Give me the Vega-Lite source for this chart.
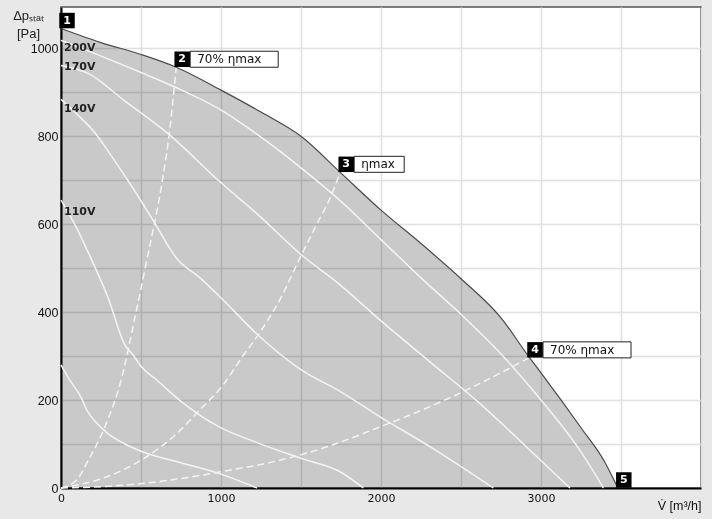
{
  "$schema": "https://vega.github.io/schema/vega-lite/v6.json",
  "width": 640,
  "height": 481,
  "autosize": {"type": "none"},
  "padding": {"left": 61, "top": 7, "right": 11, "bottom": 31},
  "background": "#e8e8e8",
  "config": {
    "view": {"fill": "white", "stroke": "#555555", "strokeWidth": 1.5},
    "font": "DejaVu Sans"
  },
  "datasets": {
    "curves": [
      {"s": "max", "V": 0, "p": 1045}, {"s": "max", "V": 250, "p": 1013}, {"s": "max", "V": 500, "p": 986}, {"s": "max", "V": 720, "p": 957}, {"s": "max", "V": 1000, "p": 905}, {"s": "max", "V": 1250, "p": 855}, {"s": "max", "V": 1500, "p": 800}, {"s": "max", "V": 1745, "p": 718}, {"s": "max", "V": 2000, "p": 632}, {"s": "max", "V": 2250, "p": 556}, {"s": "max", "V": 2500, "p": 476}, {"s": "max", "V": 2750, "p": 387}, {"s": "max", "V": 2925, "p": 298}, {"s": "max", "V": 3000, "p": 262}, {"s": "max", "V": 3250, "p": 137}, {"s": "max", "V": 3400, "p": 58}, {"s": "max", "V": 3480, "p": 0},
      {"s": "200V", "V": 0, "p": 1018}, {"s": "200V", "V": 212, "p": 988}, {"s": "200V", "V": 500, "p": 945}, {"s": "200V", "V": 712, "p": 912}, {"s": "200V", "V": 1004, "p": 859}, {"s": "200V", "V": 1250, "p": 798}, {"s": "200V", "V": 1504, "p": 727}, {"s": "200V", "V": 1750, "p": 652}, {"s": "200V", "V": 2000, "p": 565}, {"s": "200V", "V": 2250, "p": 478}, {"s": "200V", "V": 2500, "p": 395}, {"s": "200V", "V": 2750, "p": 305}, {"s": "200V", "V": 3000, "p": 200}, {"s": "200V", "V": 3250, "p": 82}, {"s": "200V", "V": 3390, "p": 0},
      {"s": "170V", "V": 0, "p": 961}, {"s": "170V", "V": 169, "p": 943}, {"s": "170V", "V": 400, "p": 880}, {"s": "170V", "V": 669, "p": 806}, {"s": "170V", "V": 1004, "p": 693}, {"s": "170V", "V": 1212, "p": 628}, {"s": "170V", "V": 1504, "p": 530}, {"s": "170V", "V": 1744, "p": 462}, {"s": "170V", "V": 2000, "p": 380}, {"s": "170V", "V": 2306, "p": 287}, {"s": "170V", "V": 2619, "p": 192}, {"s": "170V", "V": 2931, "p": 86}, {"s": "170V", "V": 3181, "p": 0},
      {"s": "140V", "V": 0, "p": 884}, {"s": "140V", "V": 100, "p": 850}, {"s": "140V", "V": 212, "p": 808}, {"s": "140V", "V": 306, "p": 760}, {"s": "140V", "V": 462, "p": 675}, {"s": "140V", "V": 587, "p": 602}, {"s": "140V", "V": 723, "p": 522}, {"s": "140V", "V": 869, "p": 478}, {"s": "140V", "V": 1004, "p": 431}, {"s": "140V", "V": 1231, "p": 348}, {"s": "140V", "V": 1504, "p": 268}, {"s": "140V", "V": 1744, "p": 220}, {"s": "140V", "V": 1994, "p": 162}, {"s": "140V", "V": 2306, "p": 94}, {"s": "140V", "V": 2702, "p": 0},
      {"s": "110V", "V": 0, "p": 655}, {"s": "110V", "V": 100, "p": 590}, {"s": "110V", "V": 171, "p": 535}, {"s": "110V", "V": 296, "p": 431}, {"s": "110V", "V": 400, "p": 325}, {"s": "110V", "V": 452, "p": 302}, {"s": "110V", "V": 504, "p": 275}, {"s": "110V", "V": 600, "p": 245}, {"s": "110V", "V": 754, "p": 196}, {"s": "110V", "V": 1004, "p": 136}, {"s": "110V", "V": 1212, "p": 105}, {"s": "110V", "V": 1504, "p": 67}, {"s": "110V", "V": 1744, "p": 37}, {"s": "110V", "V": 1890, "p": 0},
      {"s": "low", "V": 0, "p": 280}, {"s": "low", "V": 56, "p": 245}, {"s": "low", "V": 129, "p": 204}, {"s": "low", "V": 160, "p": 178}, {"s": "low", "V": 231, "p": 145}, {"s": "low", "V": 300, "p": 122}, {"s": "low", "V": 400, "p": 100}, {"s": "low", "V": 504, "p": 83}, {"s": "low", "V": 754, "p": 57}, {"s": "low", "V": 1004, "p": 31}, {"s": "low", "V": 1225, "p": 0},
      {"s": "eff2", "V": 0, "p": 0}, {"s": "eff2", "V": 100, "p": 19}, {"s": "eff2", "V": 169, "p": 62}, {"s": "eff2", "V": 275, "p": 140}, {"s": "eff2", "V": 379, "p": 250}, {"s": "eff2", "V": 462, "p": 388}, {"s": "eff2", "V": 535, "p": 516}, {"s": "eff2", "V": 629, "p": 690}, {"s": "eff2", "V": 681, "p": 818}, {"s": "eff2", "V": 720, "p": 957},
      {"s": "eff3", "V": 0, "p": 0}, {"s": "eff3", "V": 275, "p": 24}, {"s": "eff3", "V": 504, "p": 64}, {"s": "eff3", "V": 712, "p": 120}, {"s": "eff3", "V": 879, "p": 182}, {"s": "eff3", "V": 1004, "p": 230}, {"s": "eff3", "V": 1129, "p": 296}, {"s": "eff3", "V": 1254, "p": 360}, {"s": "eff3", "V": 1379, "p": 436}, {"s": "eff3", "V": 1479, "p": 512}, {"s": "eff3", "V": 1587, "p": 592}, {"s": "eff3", "V": 1692, "p": 668}, {"s": "eff3", "V": 1745, "p": 718},
      {"s": "eff4", "V": 0, "p": 0}, {"s": "eff4", "V": 379, "p": 6}, {"s": "eff4", "V": 794, "p": 24}, {"s": "eff4", "V": 1044, "p": 40}, {"s": "eff4", "V": 1294, "p": 57}, {"s": "eff4", "V": 1504, "p": 76}, {"s": "eff4", "V": 1712, "p": 100}, {"s": "eff4", "V": 1994, "p": 139}, {"s": "eff4", "V": 2306, "p": 185}, {"s": "eff4", "V": 2619, "p": 238}, {"s": "eff4", "V": 2925, "p": 296}
    ],
    "points": [
      {"n": "1", "V": 0, "p": 1045},
      {"n": "2", "V": 720, "p": 957, "label": "70% ηmax"},
      {"n": "3", "V": 1745, "p": 718, "label": "ηmax"},
      {"n": "4", "V": 2925, "p": 296, "label": "70% ηmax"},
      {"n": "5", "V": 3480, "p": 0}
    ],
    "volts": [
      {"t": "200V", "V": 0, "p": 1000},
      {"t": "170V", "V": 0, "p": 957},
      {"t": "140V", "V": 0, "p": 862},
      {"t": "110V", "V": 0, "p": 627}
    ]
  },
  "layer": [
    {
      "data": {"name": "curves"},
      "transform": [{"filter": "datum.s === 'max'"}],
      "mark": {"type": "area", "color": "#c9c9c9", "blend": "multiply", "interpolate": "monotone"},
      "encoding": {
        "x": {
          "field": "V", "type": "quantitative",
          "scale": {"domain": [0, 4000], "nice": false, "zero": true},
          "axis": {
            "values": [0, 500, 1000, 1500, 2000, 2500, 3000, 3500, 4000],
            "format": "d",
            "labelExpr": "datum.value % 1000 === 0 && datum.value < 4000 ? datum.label : ''",
            "labelFlush": false,
            "labelOverlap": false,
            "labelFont": "DejaVu Sans",
            "labelFontSize": 11,
            "labelColor": "#111111",
            "labelPadding": 4,
            "ticks": false,
            "domainColor": "#000000",
            "domainWidth": 2,
            "gridColor": "#e0e0e0",
            "gridWidth": 1.5,
            "title": "V̇ [m³/h]",
            "titleFont": "Liberation Sans",
            "titleFontSize": 12.5,
            "titleFontWeight": "normal",
            "titleColor": "#111111",
            "titleAlign": "right",
            "titleBaseline": "middle",
            "titleX": 640,
            "titleY": 17
          }
        },
        "y": {
          "field": "p", "type": "quantitative",
          "scale": {"domain": [0, 1094], "nice": false},
          "axis": {
            "values": [0, 100, 200, 300, 400, 500, 600, 700, 800, 900, 1000],
            "format": "d",
            "labelExpr": "datum.value % 200 === 0 ? datum.label : ''",
            "labelOverlap": false,
            "labelFlush": false,
            "labelFont": "Liberation Sans",
            "labelFontSize": 12.5,
            "labelColor": "#111111",
            "labelPadding": 3,
            "ticks": false,
            "domainColor": "#000000",
            "domainWidth": 2,
            "gridColor": "#e0e0e0",
            "gridWidth": 1.5,
            "title": ["Δpₛₜₐₜ", "[Pa]"],
            "titleFont": "Liberation Sans",
            "titleFontSize": 13,
            "titleFontWeight": "normal",
            "titleColor": "#222222",
            "titleAngle": 0,
            "titleAlign": "center",
            "titleBaseline": "top",
            "titleLineHeight": 18,
            "titleX": -33,
            "titleY": 2
          }
        }
      }
    },
    {
      "data": {"name": "curves"},
      "transform": [{"filter": "datum.s === '200V' || datum.s === '170V' || datum.s === '140V' || datum.s === '110V' || datum.s === 'low'"}],
      "mark": {"type": "line", "color": "#f4f4f4", "strokeWidth": 1.5, "interpolate": "monotone"},
      "encoding": {
        "x": {"field": "V", "type": "quantitative"},
        "y": {"field": "p", "type": "quantitative"},
        "detail": {"field": "s"}
      }
    },
    {
      "data": {"name": "curves"},
      "transform": [{"filter": "datum.s === 'eff2' || datum.s === 'eff3' || datum.s === 'eff4'"}],
      "mark": {"type": "line", "color": "#f4f4f4", "strokeWidth": 1.5, "strokeDash": [7, 4], "interpolate": "monotone"},
      "encoding": {
        "x": {"field": "V", "type": "quantitative"},
        "y": {"field": "p", "type": "quantitative"},
        "detail": {"field": "s"}
      }
    },
    {
      "data": {"name": "curves"},
      "transform": [{"filter": "datum.s === 'max'"}],
      "mark": {"type": "line", "color": "#4a4a4a", "strokeWidth": 1.2, "interpolate": "monotone"},
      "encoding": {
        "x": {"field": "V", "type": "quantitative"},
        "y": {"field": "p", "type": "quantitative"}
      }
    },
    {
      "data": {"name": "volts"},
      "mark": {"type": "text", "align": "left", "baseline": "middle", "dx": 3, "fontSize": 11, "fontWeight": "bold", "font": "DejaVu Sans", "color": "#222222"},
      "encoding": {
        "x": {"field": "V", "type": "quantitative"},
        "y": {"field": "p", "type": "quantitative"},
        "text": {"field": "t"}
      }
    },
    {
      "data": {"name": "points"},
      "transform": [{"filter": "datum.label != null"}],
      "mark": {"type": "point", "filled": true, "fill": "white", "stroke": "#222222", "strokeWidth": 1, "opacity": 1, "size": 256, "xOffset": 14, "yOffset": -8},
      "encoding": {
        "x": {"field": "V", "type": "quantitative"},
        "y": {"field": "p", "type": "quantitative"},
        "shape": {"field": "label", "type": "nominal", "scale": {"domain": ["70% ηmax", "ηmax"], "range": ["M0,-1H11V1H0Z", "M0,-1H6.25V1H0Z"]}, "legend": null}
      }
    },
    {
      "data": {"name": "points"},
      "mark": {"type": "point", "shape": "square", "filled": true, "color": "#000000", "opacity": 1, "size": 240, "xOffset": 6, "yOffset": -8},
      "encoding": {
        "x": {"field": "V", "type": "quantitative"},
        "y": {"field": "p", "type": "quantitative"}
      }
    },
    {
      "data": {"name": "points"},
      "mark": {"type": "text", "align": "center", "baseline": "middle", "dx": 6, "dy": -8, "fontSize": 11, "fontWeight": "bold", "font": "DejaVu Sans", "color": "white"},
      "encoding": {
        "x": {"field": "V", "type": "quantitative"},
        "y": {"field": "p", "type": "quantitative"},
        "text": {"field": "n"}
      }
    },
    {
      "data": {"name": "points"},
      "transform": [{"filter": "datum.label != null"}],
      "mark": {"type": "text", "align": "left", "baseline": "middle", "dx": 21, "dy": -8, "fontSize": 12, "font": "DejaVu Sans", "color": "#111111"},
      "encoding": {
        "x": {"field": "V", "type": "quantitative"},
        "y": {"field": "p", "type": "quantitative"},
        "text": {"field": "label"}
      }
    }
  ]
}
